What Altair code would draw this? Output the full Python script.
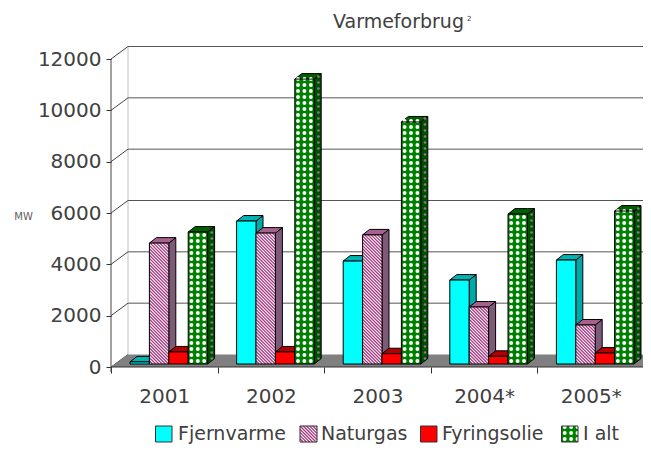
import altair as alt
import pandas as pd

title_text = "Varmeforbrug"
years = ["2001", "2002", "2003", "2004*", "2005*"]
series = ["Fjernvarme", "Naturgas", "Fyringsolie", "I alt"]
fjernvarme = [80, 5570, 4010, 3270, 4050]
naturgas = [4710, 5100, 5030, 2220, 1520]
fyringsolie = [470, 470, 400, 300, 430]
i_alt = [5140, 11100, 9430, 5840, 5960]
values = [fjernvarme, naturgas, fyringsolie, i_alt]
y_ticks = [0, 2000, 4000, 6000, 8000, 10000, 12000]

FONT = "DejaVu Sans"
TXT = "#404040"
X0, Y0 = 111.0, 367.0
PW, PH = 532, 327
XU = 106.6            # px per category
YU = 308 / 12000      # px per MW
def xd(px): return (px - X0) / XU
def yd(py): return (Y0 - py) / YU
def wx(dpx): return dpx / XU
def wy(dpx): return dpx / YU

fx = alt.X("x:Q", scale=alt.Scale(domain=[0, PW / XU], nice=False, zero=False),
           axis=alt.Axis(values=[i * 0.5 for i in range(11)], title=None, domain=False,
                         grid=False, tickSize=6, tickColor="#333333",
                         tickOpacity={"condition": {"test": "datum.value % 1 == 0", "value": 1}, "value": 0},
                         labelExpr=str(years) + "[floor(datum.value)] && datum.value % 1 != 0 ? " + str(years) + "[floor(datum.value)] : ''",
                         labelFont=FONT, labelFontSize=20, labelColor=TXT, labelPadding=13,
                         labelBaseline="top", labelFlush=False, labelOverlap=False))
fy = alt.Y("y:Q", scale=alt.Scale(domain=[0, PH / YU], nice=False, zero=False),
           axis=alt.Axis(values=y_ticks, title="MW", titleAngle=0, titleFont=FONT, titleFontSize=10,
                         titleFontWeight="normal", titleColor="#606060", titleX=-88, titleY=181,
                         domain=False, grid=False, tickSize=5, tickColor="#333333",
                         labelFont=FONT, labelFontSize=20, labelColor=TXT, labelPadding=5, format="d",
                         labelOverlap=False))
X2 = alt.X2("x2:Q")
Y2 = alt.Y2("y2:Q")
layers = []

def rule(rows, color, width=1):
    return alt.Chart(pd.DataFrame(rows, columns=["x", "x2", "y", "y2"])).mark_rule(color=color, strokeWidth=width).encode(x=fx, x2=X2, y=fy, y2=Y2)

def area(rows, color, stroke=None):
    kw = {"stroke": stroke, "strokeWidth": 1} if stroke else {}
    return alt.Chart(pd.DataFrame(rows, columns=["id", "x", "y", "y2"])).mark_area(color=color, opacity=1, **kw).encode(x=fx, y=fy, y2=Y2, detail="id:N")

def rect(rows, color, stroke=None):
    kw = {"stroke": stroke, "strokeWidth": 1} if stroke else {"strokeWidth": 0}
    return alt.Chart(pd.DataFrame(rows, columns=["x", "x2", "y", "y2"])).mark_rect(color=color, opacity=1, **kw).encode(x=fx, x2=X2, y=fy, y2=Y2)

def dots(rows, color, size):
    return alt.Chart(pd.DataFrame(rows, columns=["x", "y"])).mark_point(filled=True, color=color, size=size, opacity=1).encode(x=fx, y=fy)

def label(px, py, t, size, color=TXT):
    d = pd.DataFrame({"x": [xd(px)], "y": [yd(py)], "t": [t]})
    return alt.Chart(d).mark_text(font=FONT, fontSize=size, color=color, align="left", baseline="middle").encode(x=fx, y=fy, text="t:N")

BX, BY = wx(17), wy(12.5)
top = 12000 + BY
layers.append(rule([[BX, BX, BY, top]], "#c0c0c0"))
layers.append(rule([[BX, 5 + BX, v + BY, v + BY] for v in y_ticks[1:]], "#555555"))
layers.append(rule([[0, BX, v, v + BY] for v in y_ticks], "#444444"))
layers.append(area([[0, 0, 0, 0], [0, BX, 0, BY], [0, 5, 0, BY], [0, 5 + BX, BY, BY]], "#808080"))
layers.append(rule([[0, 0, wy(-5), 12000]], "#444444"))
layers.append(rule([[0, 5, 0, 0]], "#333333"))

BAR = wx(19.4)
LEFT = wx(19.0)
DX, DY = wx(7), wy(5.5)
BASE = wy(3)
sty = [
    dict(front="#00ffff", side="#00a8a8", top="#00b4b4"),
    dict(front="#ffffff", side="#7d5a78", top="#a8608f"),
    dict(front="#ff0000", side="#a80000", top="#b40000"),
    dict(front="#008000", side="#004f00", top="#006000"),
]

def hatch(x0, x1, y0, y1, step=3.2):
    out = []
    w, h = (x1 - x0), (y1 - y0)
    c = -h
    while c < w:
        t0 = max(0, -c)
        t1 = min(h, w - c)
        if t1 > t0:
            out.append([xd(x0 + c + t0), xd(x0 + c + t1), yd(y0 + t0), yd(y0 + t1)])
        c += step
    return out

def spots(x0, x1, y0, y1, shear=0.0, sx=6.4, sy=6.0, ox=0.5, oy=0.5):
    out = []
    n = int((y1 - y0) / sy) + 1
    for j in range(n):
        py = y1 - (j + oy) * sy
        i = 0
        while x0 + (i + ox) * sx < x1:
            px = x0 + (i + ox) * sx
            out.append([xd(px), yd(py - shear * (px - x0))])
            i += 1
    return out

for s, vals in enumerate(values):
    side, tp, fr = [], [], []
    for g, v in enumerate(vals):
        x0 = g + LEFT + s * BAR
        x1 = x0 + BAR
        y0 = BASE
        y1 = BASE + v
        side += [[g, x1, y0, y1], [g, x1 + DX, y0 + DY, y1 + DY]]
        tp += [[g, x0, y1, y1], [g, x0 + DX, y1, y1 + DY], [g, x1, y1, y1 + DY], [g, x1 + DX, y1 + DY, y1 + DY]]
        fr.append([x0, x1, y0, y1])
    layers.append(area(side, sty[s]["side"], "#000000"))
    layers.append(area(tp, sty[s]["top"], "#000000"))
    layers.append(rect(fr, sty[s]["front"]))
    if s == 1:
        hs = []
        for x0, x1, y0, y1 in fr:
            hs += hatch(X0 + x0 * XU, X0 + x1 * XU, Y0 - y1 * YU, Y0 - y0 * YU)
        layers.append(rule(hs, "#a33a80", 1.3))
    if s == 3:
        ds, ds2 = [], []
        for x0, x1, y0, y1 in fr:
            a, b, c, d = X0 + x0 * XU, X0 + x1 * XU, Y0 - y1 * YU, Y0 - y0 * YU
            ds += spots(a, b, c, d)
            ds2 += spots(b + 1, b + 7, c, d, shear=5.5 / 7)
        layers.append(dots(ds, "#ffffff", 15))
        layers.append(dots(ds2, "#808080", 7))
    layers.append(rect(fr, "transparent", "#000000"))

lx = [(155.5, 172, 178), (300, 317, 321), (420.5, 437, 442), (561.5, 578, 583)]
LT, LB = 426, 442
for s, (a, b, t) in enumerate(lx):
    box = [[xd(a), xd(b), yd(LB), yd(LT)]]
    layers.append(rect(box, sty[s]["front"]))
    if s == 1:
        layers.append(rule(hatch(a, b, LT, LB), "#a33a80", 1.3))
    if s == 3:
        layers.append(dots(spots(a, b, LT, LB), "#ffffff", 15))
    layers.append(rect(box, "transparent", "#333333"))
    layers.append(label(t, 434, series[s], 19))

layers.append(label(333, 22, title_text, 19))
layers.append(label(467, 19, "2", 7))

chart = alt.layer(*layers).properties(
    width=PW, height=PH,
    padding={"left": 103, "top": 32, "right": 0, "bottom": 77},
    autosize=alt.AutoSizeParams(type="none"),
).configure_view(stroke=None)

chart.save("out.html", embed_options={"renderer": "svg", "actions": False})
